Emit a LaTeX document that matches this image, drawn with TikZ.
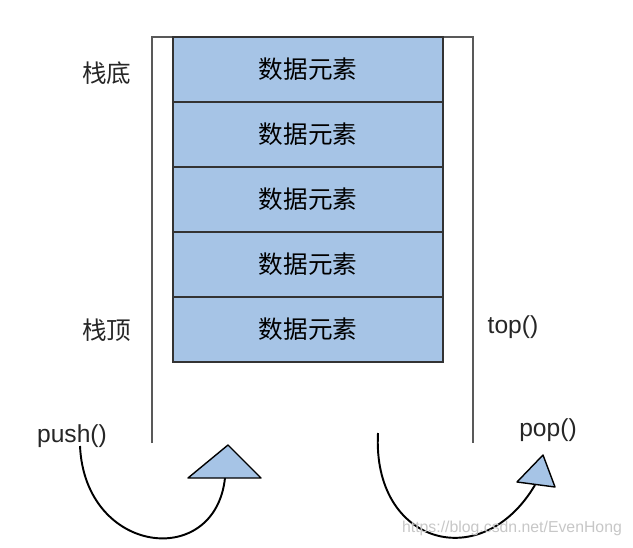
\documentclass[tikz,border=0pt]{standalone}
\usepackage{fontspec}
\setmainfont{Liberation Sans}
\newfontfamily\cjk{Noto Sans CJK SC}
\definecolor{cellblue}{RGB}{166,196,230}
\tikzset{
  frame/.style={draw=black!65,line width=0.8pt},
  cell/.style={draw=black!80,fill=cellblue,line width=0.8pt,inner sep=0pt,
    minimum width=5.4cm,minimum height=1.3cm},
  lbl/.style={inner sep=1pt,text=black!85},
  swing/.style={draw=black,line width=1.1pt},
  head/.style={draw=black,fill=cellblue,line width=0.8pt,line join=round}
}

\begin{document}
\begin{tikzpicture}[x=0.02cm,y=-0.02cm,font=\fontsize{14}{17}\selectfont]
  \useasboundingbox (0,0) rectangle (633,548);
  % stack frame
  \draw[frame] (152,443) -- (152,37) -- (473,37) -- (473,443);
  % data cells
  \foreach \i in {1,...,5}
    \node[cell] (cell\i) at (308,{69.5+65*(\i-1)}) {\cjk 数据元素};
  \node[lbl] (bottomlbl) at (107,73) {\cjk 栈底};
  \node[lbl] (toplbl) at (107,330) {\cjk 栈顶};
  \node[lbl] (topfn) at (513,327) {top()};
  \node[lbl] (pushfn) at (72,436) {push()};
  \node[lbl] (popfn) at (548,430) {pop()};
  % push arrow
  \coordinate (pushstart) at (80,446);
  \coordinate (pushend) at (225,478);
  \draw[swing] (pushstart) .. controls (85,555) and (215,570) .. (pushend);
  \filldraw[head] (188,478) -- (228,445) -- (261,478) -- cycle;
  % pop arrow
  \coordinate (popstart) at (378,433);
  \coordinate (popend) at (535,485);
  \draw[swing] (popstart) .. controls (372,545) and (482,575) .. (popend);
  \filldraw[head] (517,482) -- (543,455) -- (555,487) -- cycle;
  \node[text=black!22,font=\fontsize{9}{11}\selectfont] (mark) at (512,528)
    {https://blog.csdn.net/EvenHong};
\end{tikzpicture}
\end{document}
